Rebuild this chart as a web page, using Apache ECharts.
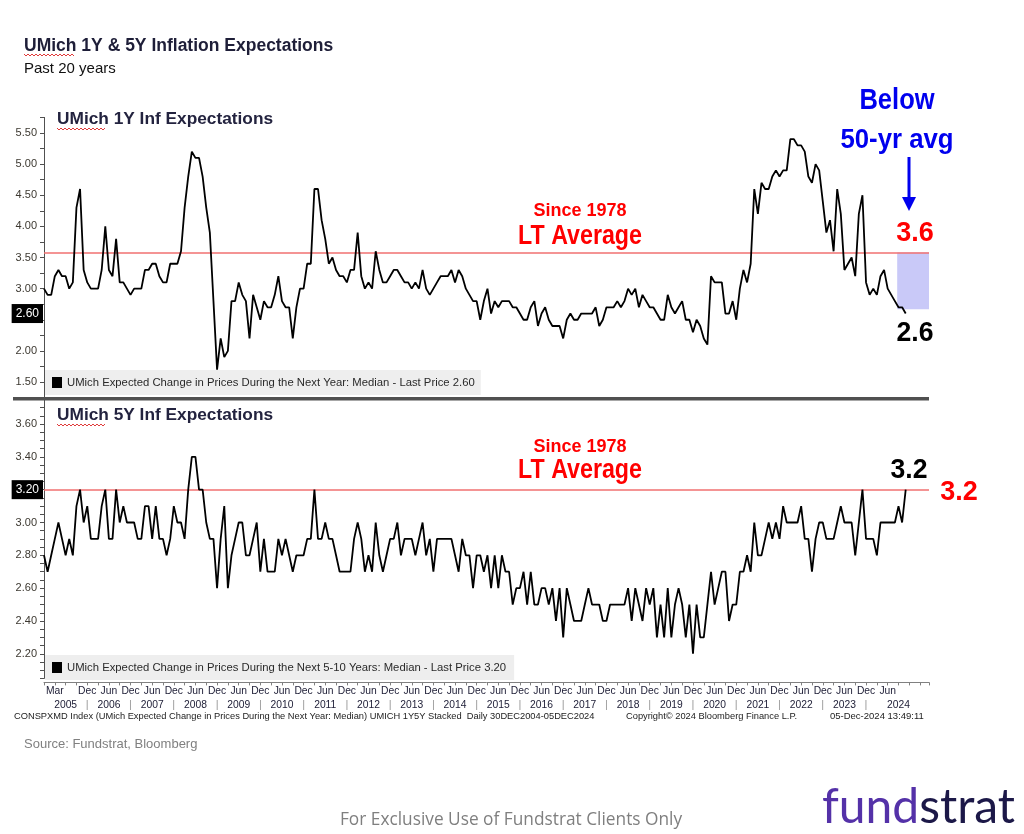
<!DOCTYPE html>
<html>
<head>
<meta charset="utf-8">
<script src="https://cdn.jsdelivr.net/npm/echarts@6/dist/echarts.min.js"></script>
<style>
html,body{margin:0;padding:0;background:#fff;}
#chart{width:1024px;height:834px;}
</style>
</head>
<body>
<div id="chart"></div>
<script>
// ---------------- DATA ----------------
// Monthly observations, Dec 2004 .. Nov 2024 (plotted at month end)
const START_YEAR = 2004;
const START_MONTH = 12;

const UMICH_1Y = [
  3.0, 2.9, 2.9, 3.2, 3.3, 3.2, 3.2, 3.0, 3.1, 4.3, 4.6, 3.3,
  3.1, 3.0, 3.0, 3.0, 3.3, 4.0, 3.3, 3.2, 3.8, 3.1, 3.1, 3.0,
  2.9, 3.0, 3.0, 3.0, 3.3, 3.3, 3.4, 3.4, 3.2, 3.1, 3.1, 3.4,
  3.4, 3.4, 3.6, 4.3, 4.8, 5.2, 5.1, 5.1, 4.8, 4.3, 3.9, 2.8,
  1.7, 2.2, 1.9, 2.0, 2.8, 2.8, 3.1, 2.9, 2.8, 2.2, 2.9, 2.7,
  2.5, 2.8, 2.7, 2.7, 2.9, 3.2, 2.8, 2.7, 2.7, 2.2, 2.7, 3.0,
  3.0, 3.4, 3.4, 4.6, 4.6, 4.1, 3.8, 3.4, 3.5, 3.3, 3.2, 3.2,
  3.1, 3.3, 3.3, 3.9, 3.2, 3.0, 3.1, 3.0, 3.6, 3.3, 3.1, 3.1,
  3.2, 3.3, 3.3, 3.2, 3.1, 3.1, 3.0, 3.1, 3.0, 3.3, 3.0, 2.9,
  3.0, 3.1, 3.2, 3.2, 3.2, 3.3, 3.1, 3.3, 3.2, 3.0, 2.9, 2.8,
  2.8, 2.5, 2.8, 3.0, 2.6, 2.8, 2.7, 2.8, 2.8, 2.8, 2.7, 2.7,
  2.6, 2.5, 2.5, 2.7, 2.8, 2.4, 2.6, 2.7, 2.5, 2.4, 2.4, 2.4,
  2.2, 2.5, 2.6, 2.5, 2.5, 2.6, 2.6, 2.6, 2.6, 2.7, 2.4, 2.5,
  2.7, 2.7, 2.7, 2.8, 2.7, 2.8, 3.0, 2.9, 3.0, 2.7, 2.9, 2.8,
  2.7, 2.7, 2.6, 2.5, 2.5, 2.9, 2.7, 2.6, 2.7, 2.8, 2.5, 2.5,
  2.3, 2.5, 2.4, 2.2, 2.1, 3.2, 3.1, 3.1, 3.1, 2.6, 2.6, 2.8,
  2.5, 3.0, 3.3, 3.1, 3.4, 4.6, 4.2, 4.7, 4.6, 4.6, 4.8, 4.9,
  4.8, 4.9, 4.9, 5.4, 5.4, 5.3, 5.3, 5.2, 4.8, 4.7, 5.0, 4.9,
  4.4, 3.9, 4.1, 3.6, 4.6, 4.2, 3.3, 3.4, 3.5, 3.2, 4.2, 4.5,
  3.1, 2.9, 3.0, 2.9, 3.2, 3.3, 3.0, 2.9, 2.8, 2.7, 2.7, 2.6
];

const UMICH_5Y = [
  2.8, 2.7, 2.8, 2.9, 3.0, 2.9, 2.8, 2.9, 2.8, 3.1, 3.2, 3.0,
  3.1, 2.9, 2.9, 2.9, 3.1, 3.2, 2.9, 2.9, 3.2, 3.0, 3.1, 3.0,
  3.0, 3.0, 2.9, 2.9, 3.1, 3.1, 2.9, 3.1, 2.9, 2.9, 2.8, 2.9,
  3.1, 3.0, 3.0, 2.9, 3.2, 3.4, 3.4, 3.2, 3.2, 3.0, 2.9, 2.9,
  2.6, 2.9, 3.1, 2.6, 2.8, 2.9, 3.0, 3.0, 2.8, 2.8, 2.9, 3.0,
  2.7, 2.9, 2.7, 2.7, 2.7, 2.9, 2.8, 2.9, 2.8, 2.7, 2.8, 2.8,
  2.8, 2.9, 2.9, 3.2, 2.9, 2.9, 3.0, 2.9, 2.9, 2.8, 2.7, 2.7,
  2.7, 2.7, 2.9, 3.0, 2.9, 2.7, 2.8, 2.7, 3.0, 2.8, 2.7, 2.8,
  2.9, 2.9, 3.0, 2.8, 2.9, 2.9, 2.9, 2.8, 2.9, 3.0, 2.8, 2.9,
  2.7, 2.9, 2.9, 2.9, 2.9, 2.9, 2.8, 2.7, 2.9, 2.8, 2.8, 2.6,
  2.8, 2.8, 2.7, 2.8, 2.6, 2.8, 2.6, 2.8, 2.7, 2.7, 2.5, 2.6,
  2.6, 2.7, 2.5, 2.7, 2.5, 2.5, 2.6, 2.6, 2.5, 2.6, 2.4, 2.6,
  2.3, 2.6, 2.5, 2.4, 2.4, 2.4, 2.5, 2.6, 2.5, 2.5, 2.5, 2.4,
  2.4, 2.5, 2.5, 2.5, 2.5, 2.5, 2.6, 2.4, 2.6, 2.5, 2.4, 2.6,
  2.5, 2.6, 2.3, 2.5, 2.3, 2.6, 2.3, 2.5, 2.6, 2.5, 2.3, 2.5,
  2.2, 2.5, 2.3, 2.3, 2.5, 2.7, 2.5, 2.6, 2.7, 2.7, 2.4, 2.5,
  2.5, 2.7, 2.7, 2.8, 2.7, 3.0, 2.8, 2.8, 2.9, 3.0, 2.9, 3.0,
  2.9, 3.1, 3.0, 3.0, 3.0, 3.0, 3.1, 2.9, 2.9, 2.7, 2.9, 3.0,
  3.0, 2.9, 2.9, 2.9, 3.0, 3.1, 3.0, 3.0, 3.0, 2.8, 3.0, 3.2,
  2.9, 2.9, 2.9, 2.8, 3.0, 3.0, 3.0, 3.0, 3.0, 3.1, 3.0, 3.2
];

const LT_AVG_1Y = 3.58;   // since-1978 long-term average
const LT_AVG_5Y = 3.20;
const LAST_1Y = 2.60;
const LAST_5Y = 3.20;
const BOX_1Y = [3.58, 2.67];  // shaded "below average" band

const NAME_1Y = 'UMich Expected Change in Prices During the Next Year: Median';
const NAME_5Y = 'UMich Expected Change in Prices During the Next 5-10 Years: Median';

const X_MIN = 2005, X_MAX = 2025.455;
const FIRST_YEAR = 2005, LAST_YEAR = 2024;
const Y1_TICKS = {min: 1.25, max: 5.75, step: 0.25, labelStep: 0.5};
const Y5_TICKS = {min: 2.05, max: 3.75, step: 0.05, labelStep: 0.2};

// ---------------- BUILD ----------------
function toPoints(arr) {
  return arr.map((v, k) => [START_YEAR + (START_MONTH + k) / 12, v]);
}

function yLabel(step) {
  return function (v) {
    const r = v / step;
    return Math.abs(r - Math.round(r)) < 1e-6 ? v.toFixed(2) : '';
  };
}

function xLabel(v) {
  const q = Math.round(v * 4);
  const y = Math.floor(q / 4), r = q - y * 4;
  if (y === FIRST_YEAR && r === 1) return 'Mar\n ';
  if (y === FIRST_YEAR && r === 2) return ' \n' + FIRST_YEAR;
  if (y === LAST_YEAR && r === 3) return ' \n' + LAST_YEAR;
  if (r === 0 && y > FIRST_YEAR && y <= LAST_YEAR) return 'Dec\n{s||}';
  if (r === 2 && y > FIRST_YEAR && y < LAST_YEAR) return 'Jun\n' + y;
  if (r === 2 && y === LAST_YEAR) return 'Jun\n ';
  return '';
}

const BB_FONT = '"Liberation Sans", Arial, sans-serif';

function squiggle(x0, x1, y0) {
  const pts = [];
  let up = true;
  for (let x = x0; x <= x1; x += 2) { pts.push([x, up ? y0 : y0 + 2]); up = !up; }
  return {type: 'polyline', z: 20, shape: {points: pts}, style: {stroke: '#e03a3a', lineWidth: 1, fill: null}};
}

function txt(x, y, text, font, fill, align, sx) {
  return {
    type: 'text', x: x, y: y, scaleX: sx || 1, z: 20,
    style: {text: text, font: font, fill: fill, textAlign: align || 'left', textVerticalAlign: 'middle',
            align: align || 'left', verticalAlign: 'middle'}
  };
}

function badgeLine(value) {
  return {
    yAxis: value,
    lineStyle: {color: 'rgba(0,0,0,0)', width: 1},
    label: {show: true, position: 'start', distance: 1, formatter: value.toFixed(2),
            backgroundColor: '#000000', color: '#ffffff', padding: [4, 4, 3, 4],
            fontSize: 12, fontFamily: BB_FONT, opacity: 1}
  };
}

const chart = echarts.init(document.getElementById('chart'), null, {renderer: 'canvas'});

const option = {
  animation: false,
  backgroundColor: '#ffffff',
  grid: [
    {left: 44, top: 117.4, width: 885, height: 280.2},
    {left: 44, top: 399.4, width: 885, height: 279}
  ],
  xAxis: [
    {gridIndex: 0, type: 'value', min: X_MIN, max: X_MAX, show: false},
    {
      gridIndex: 1, type: 'value', min: X_MIN, max: X_MAX, interval: 0.25, offset: 4,
      axisLine: {show: true, lineStyle: {color: '#808080', width: 1}},
      axisTick: {show: true, length: 3, lineStyle: {color: '#808080'}},
      splitLine: {show: false},
      axisLabel: {
        formatter: xLabel, fontSize: 10.3, lineHeight: 14, color: '#22223a', margin: 2,
        fontFamily: BB_FONT, showMinLabel: true, showMaxLabel: true,
        rich: {s: {color: '#9a9a9a', fontSize: 11, lineHeight: 14}}
      }
    }
  ],
  yAxis: [
    {
      gridIndex: 0, type: 'value', min: Y1_TICKS.min, max: Y1_TICKS.max, interval: Y1_TICKS.step,
      axisLine: {show: true, lineStyle: {color: '#505050'}},
      axisTick: {show: true, length: 4, lineStyle: {color: '#505050'}},
      splitLine: {show: false},
      axisLabel: {formatter: yLabel(Y1_TICKS.labelStep), fontSize: 11, color: '#3c3830', margin: 7, fontFamily: BB_FONT}
    },
    {
      gridIndex: 1, type: 'value', min: Y5_TICKS.min, max: Y5_TICKS.max, interval: Y5_TICKS.step,
      axisLine: {show: true, lineStyle: {color: '#505050'}},
      axisTick: {show: true, length: 4, lineStyle: {color: '#505050'}},
      splitLine: {show: false},
      axisLabel: {formatter: yLabel(Y5_TICKS.labelStep), fontSize: 11, color: '#3c3830', margin: 7, fontFamily: BB_FONT}
    }
  ],
  legend: [
    {
      data: [NAME_1Y], left: 45, top: 370, backgroundColor: '#eeeeee', padding: [7, 6, 7, 7],
      itemWidth: 10, itemHeight: 11, icon: 'rect', selectedMode: false,
      textStyle: {fontSize: 11.3, color: '#2a2a2a', fontFamily: BB_FONT},
      formatter: n => n + ' - Last Price ' + LAST_1Y.toFixed(2)
    },
    {
      data: [NAME_5Y], left: 45, top: 655, backgroundColor: '#eeeeee', padding: [7, 8, 7, 7],
      itemWidth: 10, itemHeight: 11, icon: 'rect', selectedMode: false,
      textStyle: {fontSize: 11.3, color: '#2a2a2a', fontFamily: BB_FONT},
      formatter: n => n + ' - Last Price ' + LAST_5Y.toFixed(2)
    }
  ],
  series: [
    {
      name: NAME_1Y, type: 'line', xAxisIndex: 0, yAxisIndex: 0, data: toPoints(UMICH_1Y),
      symbol: 'none', clip: false, color: '#000000',
      lineStyle: {color: '#000000', width: 1.8}, z: 5,
      markArea: {
        silent: true, itemStyle: {color: '#c9c9f8'},
        data: [[{coord: [2024.72, BOX_1Y[0]]}, {coord: [2025.55, BOX_1Y[1]]}]]
      },
      markLine: {
        silent: true, symbol: ['none', 'none'], animation: false,
        data: [
          {yAxis: LT_AVG_1Y, lineStyle: {color: '#f07070', width: 1.5, type: 'solid'}, label: {show: false}},
          badgeLine(LAST_1Y)
        ]
      }
    },
    {
      name: NAME_5Y, type: 'line', xAxisIndex: 1, yAxisIndex: 1, data: toPoints(UMICH_5Y),
      symbol: 'none', color: '#000000',
      lineStyle: {color: '#000000', width: 1.8}, z: 5,
      markLine: {
        silent: true, symbol: ['none', 'none'], animation: false,
        data: [
          {yAxis: LT_AVG_5Y, lineStyle: {color: '#f07070', width: 1.5, type: 'solid'}, label: {show: false}},
          badgeLine(LAST_5Y)
        ]
      }
    }
  ],
  graphic: {
    elements: [
      // titles
      txt(24, 46, 'UMich 1Y & 5Y Inflation Expectations', 'bold 17.5px "Liberation Sans"', '#1e1e38'),
      txt(24, 69, 'Past 20 years', '15px "Liberation Sans"', '#111111'),
      squiggle(24, 74, 54),
      txt(57, 119, 'UMich 1Y Inf Expectations', 'bold 17.3px "Liberation Sans"', '#23233f'),
      squiggle(57, 106, 128),
      txt(57, 415, 'UMich 5Y Inf Expectations', 'bold 17.3px "Liberation Sans"', '#23233f'),
      squiggle(57, 106, 424),
      // panel separator
      {type: 'rect', z: 15, shape: {x: 13, y: 397, width: 916, height: 3.5}, style: {fill: '#505050'}},
      // LT average annotations
      txt(580, 211, 'Since 1978', 'bold 18px "Liberation Sans"', '#ff0000', 'center'),
      txt(580, 237, 'LT Average', 'bold 27px "Liberation Sans"', '#ff0000', 'center', 0.86),
      txt(580, 447, 'Since 1978', 'bold 18px "Liberation Sans"', '#ff0000', 'center'),
      txt(580, 471, 'LT Average', 'bold 27px "Liberation Sans"', '#ff0000', 'center', 0.86),
      // right side callouts
      txt(897, 101, 'Below', 'bold 29px "Liberation Sans"', '#0000ee', 'center', 0.88),
      txt(897, 140, '50-yr avg', 'bold 28px "Liberation Sans"', '#0000ee', 'center', 0.92),
      {type: 'line', z: 20, shape: {x1: 909, y1: 157, x2: 909, y2: 199}, style: {stroke: '#0000ee', lineWidth: 3}},
      {type: 'polygon', z: 20, shape: {points: [[902, 197], [916, 197], [909, 211]]}, style: {fill: '#0000ee'}},
      txt(915, 234, '3.6', 'bold 27px "Liberation Sans"', '#ff0000', 'center'),
      txt(915, 333, '2.6', 'bold 28px "Liberation Sans"', '#000000', 'center', 0.95),
      txt(909, 470, '3.2', 'bold 28px "Liberation Sans"', '#000000', 'center', 0.95),
      txt(959, 493, '3.2', 'bold 27px "Liberation Sans"', '#ff0000', 'center'),
      // Bloomberg footer row
      txt(14, 716, 'CONSPXMD Index (UMich Expected Change in Prices During the Next Year: Median) UMICH 1Y5Y Stacked  Daily 30DEC2004-05DEC2024', '9.3px "Liberation Sans"', '#222222'),
      txt(626, 716, 'Copyright\u00A9 2024 Bloomberg Finance L.P.', '9.3px "Liberation Sans"', '#222222'),
      txt(830, 716, '05-Dec-2024 13:49:11', '9.5px "Liberation Sans"', '#222222'),
      // source & disclaimer
      txt(24, 744, 'Source: Fundstrat, Bloomberg', '13px "Liberation Sans"', '#808080'),
      txt(511, 820, 'For Exclusive Use of Fundstrat Clients Only', '17.3px "Open Sans"', '#7f7f7f', 'center'),
      {
        type: 'text', x: 822, y: 808, z: 20,
        style: {
          text: '{a|fund}{b|strat}', textVerticalAlign: 'middle', verticalAlign: 'middle',
          rich: {
            a: {fill: '#5431a8', fontSize: 48, fontFamily: 'Lato', fontWeight: 'normal'},
            b: {fill: '#1c1848', fontSize: 48, fontFamily: 'Lato', fontWeight: 'normal'}
          }
        }
      }
    ]
  }
};

chart.setOption(option);
</script>
</body>
</html>
